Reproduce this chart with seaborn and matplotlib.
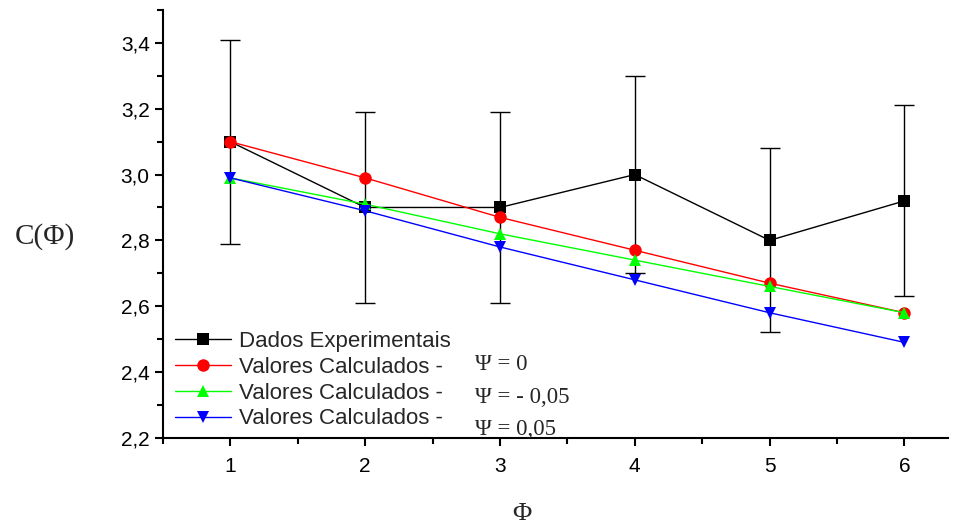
import numpy as np
import pandas as pd
import seaborn as sns
import matplotlib.pyplot as plt
from matplotlib.ticker import MultipleLocator, FuncFormatter

sns.set_style("ticks")
plt.rcParams['font.family'] = ['Liberation Sans', 'DejaVu Sans']

phi = [1, 2, 3, 4, 5, 6]
dados_exp = [3.10, 2.90, 2.90, 3.00, 2.80, 2.92]
erro_exp = [0.31, 0.29, 0.29, 0.30, 0.28, 0.29]
calc_psi_0 = [3.10, 2.99, 2.87, 2.77, 2.67, 2.58]
calc_psi_m005 = [2.99, 2.91, 2.82, 2.74, 2.66, 2.58]
calc_psi_p005 = [2.99, 2.89, 2.78, 2.68, 2.58, 2.49]

labels = ['Dados Experimentais', 'Valores Calculados -',
          'Valores Calculados -', 'Valores Calculados -']
psi_labels = ['Ψ = 0', 'Ψ = - 0,05', 'Ψ = 0,05']

fig = plt.figure(figsize=(9.64, 5.30), dpi=100)
ax = fig.add_axes([0.169, 0.174, 0.814, 0.807])

ax.errorbar(phi, dados_exp, yerr=erro_exp, fmt='none', ecolor='black',
            elinewidth=1, capsize=7, capthick=1, zorder=1)

series = [
    (dados_exp, 'black', 's', labels[0]),
    (calc_psi_0, '#ff0000', 'o', labels[1]),
    (calc_psi_m005, '#00ff00', '^', labels[2]),
    (calc_psi_p005, '#0000ff', 'v', labels[3]),
]
for vals, cor, mk, lab in series:
    df = pd.DataFrame({'phi': phi, 'C': vals})
    sns.lineplot(data=df, x='phi', y='C', color=cor, marker=mk, markersize=9,
                 markeredgewidth=0, linewidth=1, label=lab, ax=ax, zorder=2)

ax.set_xlim(0.5, 6.32)
ax.set_ylim(2.2, 3.5)
ax.xaxis.set_major_locator(MultipleLocator(1))
ax.xaxis.set_minor_locator(MultipleLocator(0.5))
ax.yaxis.set_major_locator(MultipleLocator(0.2))
ax.yaxis.set_minor_locator(MultipleLocator(0.1))
ax.yaxis.set_major_formatter(FuncFormatter(lambda v, p: f'{v:.1f}'.replace('.', ',')))
ax.tick_params(axis='both', which='major', length=6, width=1.5, labelsize=15,
               direction='out', color='black', labelcolor='black')
ax.tick_params(axis='x', which='major', pad=8)
ax.tick_params(axis='both', which='minor', length=4, width=1.5, direction='out',
               color='black')
sns.despine(ax=ax)
for s in ['left', 'bottom']:
    ax.spines[s].set_linewidth(1.5)
    ax.spines[s].set_color('black')

ax.set_xlabel('')
ax.set_ylabel('')
serif = ['Liberation Serif', 'DejaVu Serif']
fig.text(0.047, 0.553, 'C(Φ)', family=serif, fontsize=21, ha='center', va='center')
fig.text(0.541, 0.030, 'Φ', family=serif, fontsize=19, ha='center', va='center')

leg = ax.legend(loc='lower left', bbox_to_anchor=(0.01, 0.009), frameon=False,
                fontsize=16, handlelength=2.5, labelspacing=0.22,
                borderaxespad=0.05, borderpad=0.15, handletextpad=0.36)

psi_y = [0.313, 0.25, 0.19]
for txt, yy in zip(psi_labels, psi_y):
    fig.text(0.493, yy, txt, family=serif, fontsize=16.5, ha='left', va='center')

fig.savefig('out.png', dpi=100)
